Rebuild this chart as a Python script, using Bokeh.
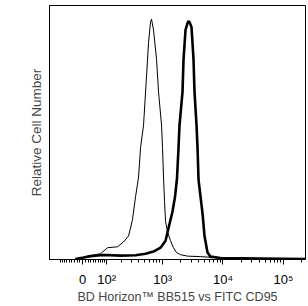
import numpy as np
from bokeh.plotting import figure
from bokeh.models import Range1d, FixedTicker
from bokeh.embed import file_html
from bokeh.resources import INLINE

# Fluorescence intensity (FITC) and relative counts
thin_x = [-26, 0, 29, 70, 105, 168, 217, 266, 288, 312, 352, 396, 428, 481, 540, 583,
          630, 655, 707, 794, 857, 961, 998, 1037, 1078, 1120, 1209, 1355, 1518, 1703,
          1983, 2590, 4250, 7525, 13300, 41700, 231500]
thin_y = [0.2, 0.8, 1.6, 2.4, 4.9, 5.3, 7.3, 9.8, 13.1, 16.7, 26.1, 34.3, 46.5, 55.9, 76.3, 90.2,
          98.8, 100.0, 95.5, 83.3, 69.8, 55.9, 46.5, 34.3, 24.1, 15.9, 11.4, 7.8, 4.9, 2.9,
          2.0, 1.4, 1.2, 0.8, 0.6, 0.4, 0.3]

thick_x = [-26, 4, 29, 70, 122, 191, 352, 519, 707, 925, 1120, 1256, 1462, 1609, 1736, 1838,
           1909, 2141, 2225, 2400, 2590, 2691, 2795, 3016, 3255, 3380, 3650, 3793, 3940,
           4588, 4950, 5545, 6220, 9100, 41700, 231500]
thick_y = [0.2, 0.8, 1.4, 1.8, 1.8, 1.6, 1.8, 2.4, 3.3, 4.9, 7.8, 13.1, 20.0, 26.1, 33.9, 46.5,
           55.9, 69.8, 83.3, 95.5, 98.4, 99.2, 98.8, 96.7, 83.3, 69.8, 55.9, 46.5, 33.1,
           19.2, 9.8, 2.9, 1.2, 0.6, 0.4, 0.2]

major_vals = [0, 100, 1000, 10000, 100000]
major_labels = ["0", "10²", "10³", "10⁴", "10⁵"]
minor_vals = ([-d * 10 for d in range(1, 10)] + [d * 10 for d in range(1, 10)] +
              [d * 100 for d in range(2, 10)] + [d * 1000 for d in range(2, 10)] +
              [d * 10000 for d in range(2, 10)] + [200000])

X_MIN, X_MAX = -154, 231500
Y_MAX = 105.7
B = 95.2  # width of the linear region of the biexponential display


def T(v):
    return np.arcsinh(np.asarray(v, dtype=float) / B)


p = figure(width=308, height=306, output_backend="svg", toolbar_location=None,
           x_range=Range1d(float(T(X_MIN)), float(T(X_MAX))),
           y_range=Range1d(0, Y_MAX),
           min_border_left=49, min_border_right=3, min_border_top=5, min_border_bottom=42)

p.line(T(thin_x), thin_y, line_color="black", line_width=1)
p.line(T(thick_x), thick_y, line_color="black", line_width=2.6)

p.grid.visible = False
p.outline_line_color = "black"
p.outline_line_width = 1
p.background_fill_color = "white"
p.border_fill_color = "white"

ticks = [round(float(t), 6) for t in T(major_vals)]
minors = [round(float(t), 6) for t in T(minor_vals)]
p.xaxis.ticker = FixedTicker(ticks=ticks, minor_ticks=minors)
p.xaxis.major_label_overrides = {t: lab for t, lab in zip(ticks, major_labels)}
p.xaxis.major_tick_in = 0
p.xaxis.major_tick_out = 5
p.xaxis.minor_tick_in = 0
p.xaxis.minor_tick_out = 3
p.xaxis.major_label_standoff = 7
p.xaxis.major_label_text_font = "Liberation Sans"
p.xaxis.major_label_text_font_size = "13px"
p.xaxis.major_label_text_color = "black"
p.xaxis.axis_label = "BD Horizon™ BB515 vs FITC CD95"
p.xaxis.axis_label_text_font = "Liberation Sans"
p.xaxis.axis_label_text_font_size = "12.5px"
p.xaxis.axis_label_text_font_style = "normal"
p.xaxis.axis_label_standoff = 0
p.xaxis.axis_line_color = "black"

p.yaxis.ticker = FixedTicker(ticks=[])
p.yaxis.major_tick_out = 0
p.yaxis.minor_tick_out = 0
p.yaxis.axis_label = "Relative Cell Number"
p.yaxis.axis_label_text_font = "Liberation Sans"
p.yaxis.axis_label_text_font_size = "13.5px"
p.yaxis.axis_label_text_font_style = "normal"
p.yaxis.axis_label_standoff = 6
p.yaxis.axis_line_color = "black"

open("out.html", "w").write(file_html(p, INLINE))
